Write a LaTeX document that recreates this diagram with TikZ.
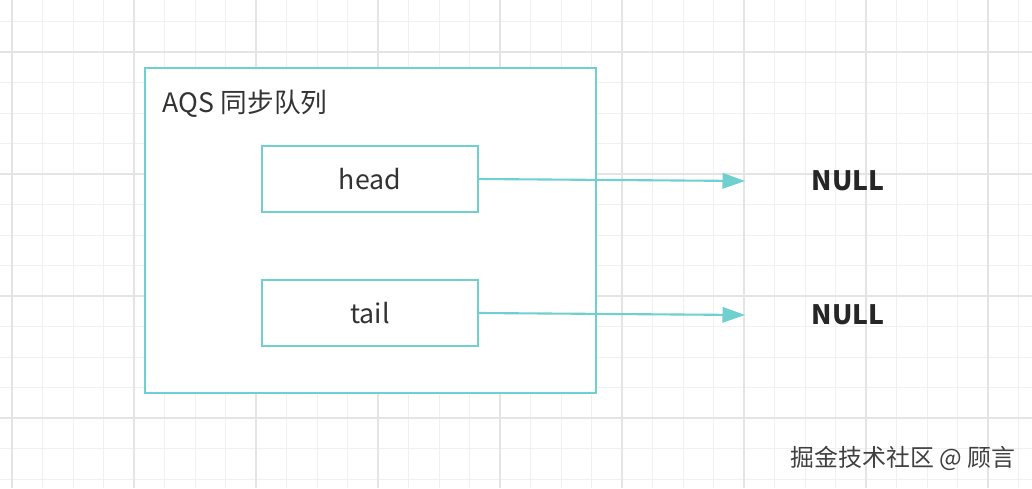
\documentclass[tikz,border=0pt]{standalone}
\usepackage{fontspec}
\setmainfont{Noto Sans CJK SC}
\usetikzlibrary{positioning,arrows.meta}
\definecolor{aqsline}{HTML}{70D0D0}
\definecolor{gridminor}{HTML}{F0F0F0}
\definecolor{gridmajor}{HTML}{E4E4E4}
\tikzset{
  fieldbox/.style={draw=aqsline, line width=1.5pt, minimum width=5.4cm, minimum height=1.65cm, font=\fontsize{19}{19}\selectfont, text=black!80},
  nulltext/.style={font=\fontsize{19}{19}\selectfont\bfseries, text=black!85},
  ptr/.style={draw=aqsline, line width=1.5pt, -{Triangle[length=16pt,width=11pt]}}
}
\begin{document}
\begin{tikzpicture}[x=0.025cm, y=-0.025cm]
  \useasboundingbox (0,0) rectangle (1032,488);
  % grid background
  \foreach \gx in {12,42.5,...,1032} \draw[gridminor, line width=0.6pt] (\gx,0) -- (\gx,488);
  \foreach \gy in {-9,21.5,...,488} \draw[gridminor, line width=0.6pt] (0,\gy) -- (1032,\gy);
  \foreach \gx in {12,134,...,1032} \draw[gridmajor, line width=0.9pt] (\gx,0) -- (\gx,488);
  \foreach \gy in {52,174,...,488} \draw[gridmajor, line width=0.9pt] (0,\gy) -- (1032,\gy);
  % queue
  \filldraw[draw=aqsline, fill=white, line width=1.5pt] (145,68) rectangle (596,393);
  \node[anchor=west, font=\fontsize{19}{19}\selectfont, text=black!80] (title) at (158,104) {AQS 同步队列};
  \node[fieldbox, fill=white] (head) at (370,179) {head};
  \node[fieldbox, fill=white] (tail) at (370,313) {tail};
  \node[nulltext] (headnull) at (848,181) {NULL};
  \node[nulltext] (tailnull) at (848,315) {NULL};
  \coordinate (headend) at (745,181);
  \coordinate (tailend) at (745,315);
  \draw[ptr] (head.east) -- (headend);
  \draw[ptr] (tail.east) -- (tailend);
  \node[anchor=east, font=\fontsize{17}{17}\selectfont, text=black!75] (mark) at (1020,458) {掘金技术社区 @ 顾言};
\end{tikzpicture}
\end{document}
